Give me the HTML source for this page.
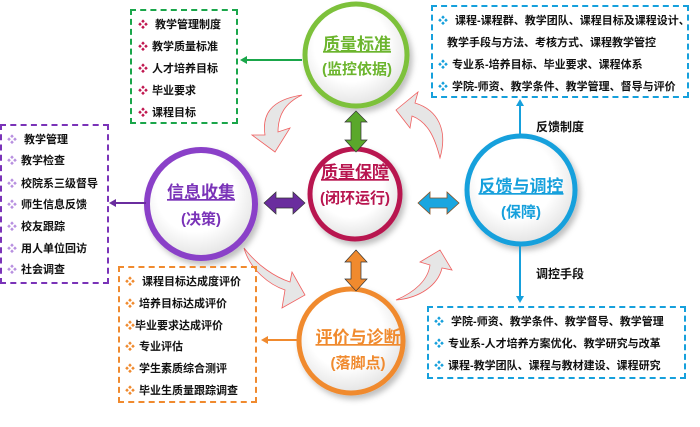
<!DOCTYPE html>
<html><head><meta charset="utf-8"><style>
body{margin:0;width:700px;height:427px;background:#fff;position:relative;overflow:hidden;font-family:"Liberation Sans","Noto Sans CJK SC",sans-serif;}
.box{position:absolute;border:2px dashed;box-sizing:border-box;}
.it{position:absolute;font-size:11px;font-weight:bold;color:#111;white-space:nowrap;}
.it b{font-size:10px;margin-right:4px;}
.lbl{position:absolute;font-size:12px;font-weight:bold;color:#111;}
</style></head><body>
<svg width="700" height="427" style="position:absolute;left:0;top:0">
<defs>
<radialGradient id="g" cx="45%" cy="40%" r="60%"><stop offset="0.6" stop-color="#fff"/><stop offset="1" stop-color="#e4e4e4"/></radialGradient>
<filter id="s"><feDropShadow dx="3" dy="4" stdDeviation="3" flood-color="#000" flood-opacity="0.25"/></filter>
</defs>
<!-- curved arrows -->
<g fill="#e6e6e6" stroke="#f06060" stroke-width="0.8">
<path d="M302,95 C270,100 262,115 265,135 L252,135 L275,152 L290,128 L278,132 C278,115 285,103 302,95 Z"/>
<path d="M440,158 C448,130 438,110 415,103 L418,92 L396,110 L410,128 L412,116 C428,122 435,138 440,158 Z"/>
<path d="M244,248 C250,270 270,285 285,290 L282,308 L305,295 L292,272 L290,282 C275,277 258,266 244,248 Z"/>
<path d="M396,300 C420,298 438,285 442,268 L452,270 L440,250 L420,262 L430,265 C428,280 415,292 396,300 Z"/>
</g>
<!-- circles -->
<g filter="url(#s)">
<circle cx="356" cy="55" r="51" fill="url(#g)" stroke="#7dc13a" stroke-width="5"/>
<circle cx="355" cy="194" r="45" fill="url(#g)" stroke="#b8154f" stroke-width="5"/>
<circle cx="201" cy="204" r="54" fill="url(#g)" stroke="#8a3fc8" stroke-width="6"/>
<circle cx="521" cy="190" r="54" fill="url(#g)" stroke="#16a0dc" stroke-width="5"/>
<circle cx="351" cy="341" r="52" fill="url(#g)" stroke="#f08a2e" stroke-width="5"/>
</g>
<!-- double arrows -->
<path d="M356,111 L367,122 L361,122 L361,140 L367,140 L356,152 L345,140 L351,140 L351,122 L345,122 Z" fill="#5aa82b" stroke="#333" stroke-width="0.7"/>
<path d="M356,250 L367,262 L361,262 L361,279 L367,279 L356,291 L345,279 L351,279 L351,262 L345,262 Z" fill="#f08a2e" stroke="#333" stroke-width="0.7"/>
<path d="M264,203 L276,192 L276,198 L293,198 L293,192 L305,203 L293,214 L293,208 L276,208 L276,214 Z" fill="#6a2d9e" stroke="#333" stroke-width="0.7"/>
<path d="M418,203 L430,192 L430,198 L447,198 L447,192 L459,203 L447,214 L447,208 L430,208 L430,214 Z" fill="#1aa6e0" stroke="#8a5020" stroke-width="0.8"/>
<!-- connectors -->
<g stroke-width="2" fill="none">
<line x1="302" y1="60" x2="244" y2="60" stroke="#1aa64a"/>
<line x1="146" y1="203" x2="113" y2="203" stroke="#6a2d9e"/>
<line x1="300" y1="340" x2="265" y2="340" stroke="#f08a2e"/>
<line x1="520" y1="136" x2="520" y2="104" stroke="#16a0dc"/>
<line x1="520" y1="245" x2="520" y2="298" stroke="#16a0dc"/>
</g>
<path d="M240,60 L247,56 L247,64 Z" fill="#1aa64a"/>
<path d="M109,203 L116,199 L116,207 Z" fill="#6a2d9e"/>
<path d="M261,340 L268,336 L268,344 Z" fill="#f08a2e"/>
<path d="M520,99 L516,106 L524,106 Z" fill="#16a0dc"/>
<path d="M520,303 L516,296 L524,296 Z" fill="#16a0dc"/>
<!-- circle text -->
<g font-family="Liberation Sans, Noto Sans CJK SC, sans-serif" font-weight="bold" text-anchor="middle">
<text x="357" y="50" font-size="17" fill="#6cb52e" text-decoration="underline">质量标准</text>
<text x="357" y="74" font-size="15" fill="#6cb52e">(监控依据)</text>
<text x="355" y="178" font-size="17" fill="#b8154f" text-decoration="underline">质量保障</text>
<text x="355" y="203" font-size="15" fill="#b8154f">(闭环运行)</text>
<text x="201" y="198" font-size="17" fill="#7a33b8" text-decoration="underline">信息收集</text>
<text x="201" y="224" font-size="15" fill="#7a33b8">(决策)</text>
<text x="521" y="192" font-size="17" fill="#16a0dc" text-decoration="underline">反馈与调控</text>
<text x="521" y="217" font-size="15" fill="#16a0dc">(保障)</text>
<text x="358" y="343" font-size="17" fill="#f08a2e" text-decoration="underline">评价与诊断</text>
<text x="358" y="368" font-size="15" fill="#f08a2e">(落脚点)</text>
</g>
</svg>

<div class="box" style="left:130px;top:9px;width:108px;height:115px;border-color:#1aa64a"></div>
<div class="it" style="left:138px;top:16px"><b style="color:#c0174f">❖</b> 教学管理制度</div>
<div class="it" style="left:138px;top:38px"><b style="color:#c0174f">❖</b>教学质量标准</div>
<div class="it" style="left:138px;top:60px"><b style="color:#c0174f">❖</b>人才培养目标</div>
<div class="it" style="left:138px;top:82px"><b style="color:#c0174f">❖</b>毕业要求</div>
<div class="it" style="left:138px;top:104px"><b style="color:#c0174f">❖</b>课程目标</div>

<div class="box" style="left:0;top:124px;width:109px;height:160px;border-color:#7a33b8"></div>
<div class="it" style="left:7px;top:131px"><b style="color:#b890e0">❖</b> 教学管理</div>
<div class="it" style="left:7px;top:152px"><b style="color:#b890e0">❖</b>教学检查</div>
<div class="it" style="left:7px;top:175px"><b style="color:#b890e0">❖</b>校院系三级督导</div>
<div class="it" style="left:7px;top:196px"><b style="color:#b890e0">❖</b>师生信息反馈</div>
<div class="it" style="left:7px;top:218px"><b style="color:#b890e0">❖</b>校友跟踪</div>
<div class="it" style="left:7px;top:240px"><b style="color:#b890e0">❖</b>用人单位回访</div>
<div class="it" style="left:7px;top:261px"><b style="color:#b890e0">❖</b>社会调查</div>

<div class="box" style="left:431px;top:5px;width:258px;height:93px;border-color:#16a0dc"></div>
<div class="it" style="left:438px;top:12px"><b style="color:#16a0dc">❖</b> 课程-课程群、教学团队、课程目标及课程设计、</div>
<div class="it" style="left:447px;top:34px">教学手段与方法、考核方式、课程教学管控</div>
<div class="it" style="left:438px;top:56px"><b style="color:#16a0dc">❖</b>专业系-培养目标、毕业要求、课程体系</div>
<div class="it" style="left:438px;top:78px"><b style="color:#16a0dc">❖</b>学院-师资、教学条件、教学管理、督导与评价</div>

<div class="lbl" style="left:536px;top:118px">反馈制度</div>
<div class="lbl" style="left:536px;top:265px">调控手段</div>

<div class="box" style="left:118px;top:266px;width:139px;height:137px;border-color:#f08a2e"></div>
<div class="it" style="left:125px;top:273px"><b style="color:#f08a2e">❖</b> 课程目标达成度评价</div>
<div class="it" style="left:125px;top:295px"><b style="color:#f08a2e">❖</b>培养目标达成评价</div>
<div class="it" style="left:125px;top:317px"><b style="color:#f08a2e;margin-right:0">❖</b>毕业要求达成评价</div>
<div class="it" style="left:125px;top:338px"><b style="color:#f08a2e">❖</b>专业评估</div>
<div class="it" style="left:125px;top:360px"><b style="color:#f08a2e">❖</b>学生素质综合测评</div>
<div class="it" style="left:125px;top:382px"><b style="color:#f08a2e">❖</b>毕业生质量跟踪调查</div>

<div class="box" style="left:427px;top:306px;width:259px;height:73px;border-color:#16a0dc"></div>
<div class="it" style="left:434px;top:313px"><b style="color:#16a0dc">❖</b> 学院-师资、教学条件、教学督导、教学管理</div>
<div class="it" style="left:434px;top:335px"><b style="color:#16a0dc">❖</b>专业系-人才培养方案优化、教学研究与改革</div>
<div class="it" style="left:434px;top:357px"><b style="color:#16a0dc">❖</b>课程-教学团队、课程与教材建设、课程研究</div>
</body></html>
